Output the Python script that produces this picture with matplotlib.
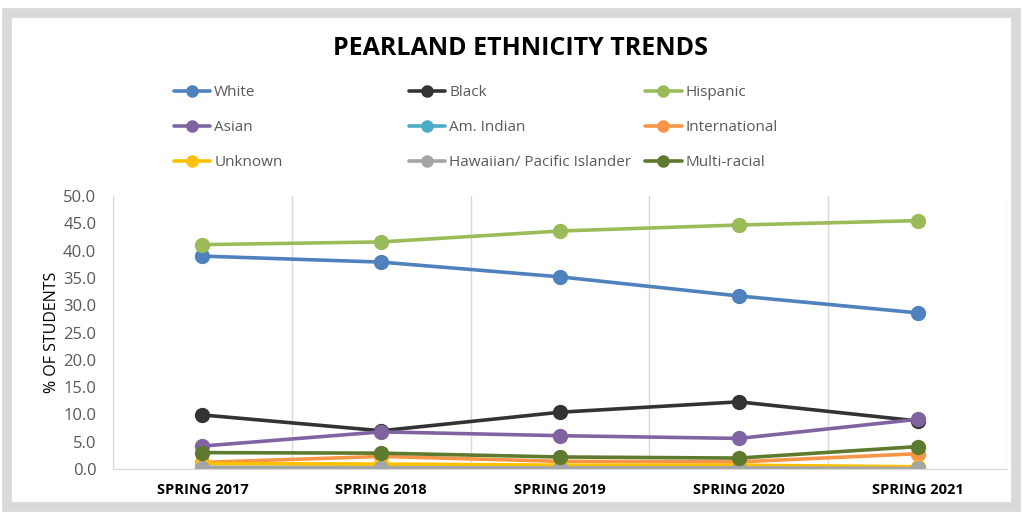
import matplotlib.pyplot as plt
from matplotlib.patches import Rectangle

years = ['SPRING 2017', 'SPRING 2018', 'SPRING 2019', 'SPRING 2020', 'SPRING 2021']

white = [39.0, 37.9, 35.2, 31.7, 28.6]
black = [9.9, 7.0, 10.4, 12.3, 8.8]
hispanic = [41.1, 41.6, 43.6, 44.7, 45.5]
asian = [4.2, 6.8, 6.1, 5.6, 9.1]
am_indian = [0.3, 0.3, 0.2, 0.2, 0.2]
international = [1.2, 2.3, 1.4, 1.3, 2.8]
unknown = [1.0, 0.9, 0.7, 0.7, 0.4]
hawaiian = [0.2, 0.2, 0.2, 0.2, 0.1]
multi = [3.0, 2.9, 2.2, 2.0, 4.1]

series = [
    ('White', white, '#4F81BD'),
    ('Black', black, '#333333'),
    ('Hispanic', hispanic, '#9BBB59'),
    ('Asian', asian, '#8064A2'),
    ('Am. Indian', am_indian, '#4BACC6'),
    ('International', international, '#F79646'),
    ('Unknown', unknown, '#FFC000'),
    ('Hawaiian/ Pacific Islander', hawaiian, '#A5A5A5'),
    ('Multi-racial', multi, '#5E7A2E'),
]

plt.rcParams['font.family'] = ['Open Sans', 'DejaVu Sans']

fig = plt.figure(figsize=(10.22, 5.13), dpi=100)
fig.patches.append(Rectangle((0.007, 0.012), 0.987, 0.963, transform=fig.transFigure,
                             fill=False, edgecolor='#D9D9D9', linewidth=7))

ax = fig.add_axes([0.1106, 0.0858, 0.8748, 0.532])
x = list(range(len(years)))
handles = {}
for name, vals, col in series:
    h, = ax.plot(x, vals, color=col, linewidth=2.6, marker='o', markersize=10,
                 label=name, solid_capstyle='round')
    handles[name] = h

ax.set_xlim(-0.5, 4.5)
ax.set_ylim(0, 50)
ax.set_yticks([i * 5 for i in range(11)])
ax.set_yticklabels(['%.1f' % (i * 5) for i in range(11)], fontsize=12, color='#595959')
ax.set_xticks(x)
ax.set_xticklabels(years, fontsize=10.5, fontweight='bold', color='black')
ax.set_xticks([i + 0.5 for i in range(-1, 5)], minor=True)
ax.grid(True, axis='x', which='minor', color='#D9D9D9', linewidth=1)
ax.tick_params(axis='both', which='both', length=0)
ax.tick_params(axis='x', pad=10)
ax.tick_params(axis='y', pad=12)
for s in ['top', 'right']:
    ax.spines[s].set_visible(False)
for s in ['left', 'bottom']:
    ax.spines[s].set_color('#D9D9D9')
ax.set_ylabel('% OF STUDENTS', fontsize=11.5, color='black', labelpad=2)

fig.text(0.509, 0.905, 'PEARLAND ETHNICITY TRENDS', ha='center', va='center',
         fontsize=18, fontweight='bold', color='black')

columns = [['White', 'Asian', 'Unknown'],
           ['Black', 'Am. Indian', 'Hawaiian/ Pacific Islander'],
           ['Hispanic', 'International', 'Multi-racial']]
col_x = [0.170, 0.400, 0.631]
for cx, names in zip(col_x, columns):
    leg = fig.legend([handles[n] for n in names], names, loc='upper left',
                     bbox_to_anchor=(cx, 0.834), frameon=False, fontsize=11,
                     handlelength=2.4, handletextpad=0.25, labelspacing=1.3,
                     borderpad=0, borderaxespad=0, markerscale=0.8)
    for t in leg.get_texts():
        t.set_color('#595959')

fig.savefig('out.png', dpi=100)
